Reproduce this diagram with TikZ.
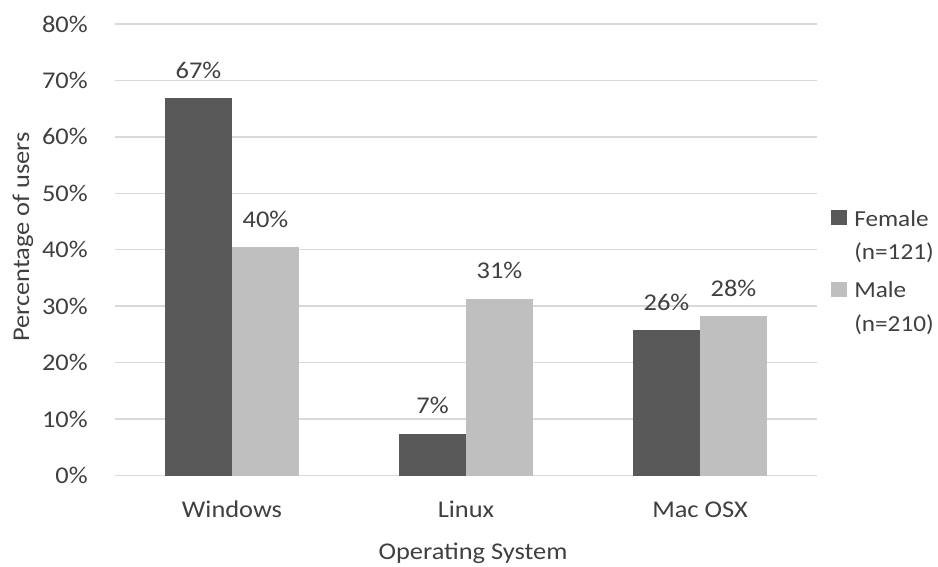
\documentclass[tikz,border=0pt]{standalone}
\usepackage{fontspec}
\setmainfont[FakeStretch=1.1]{Carlito}
\definecolor{femalegray}{HTML}{595959}
\definecolor{malegray}{HTML}{BFBFBF}
\definecolor{gridgray}{HTML}{D9D9D9}
\definecolor{textgray}{HTML}{404040}
\tikzset{
  lbl/.style={font=\fontsize{18}{21}\selectfont, text=textgray, inner sep=0pt},
  leglbl/.style={lbl, font=\fontsize{17.2}{20}\selectfont, anchor=base west},
  femalebar/.style={fill=femalegray},
  malebar/.style={fill=malegray},
  gridline/.style={draw=gridgray, line width=1.1pt},
}
\begin{document}
\begin{tikzpicture}[x=0.75pt,y=-0.75pt]
  \useasboundingbox[fill=white] (0,0) rectangle (938,567);
  % Grid lines and tick labels
  \foreach \v in {0,10,...,80} {
    \draw[gridline] (115,{475.5-\v*5.644}) -- (817,{475.5-\v*5.644});
    \node[lbl, anchor=east] (ytick-\v) at (88,{475.5-\v*5.644}) {\v\%};
  }
  % Bars with value labels
  \foreach \os/\f/\m/\fl/\ml [count=\i] in {Windows/66.8/40.4/67/40, Linux/7.4/31.3/7/31, Mac OSX/25.7/28.2/26/28} {
    \pgfmathsetmacro{\cx}{115+234*(\i-0.5)}
    \fill[femalebar] ({\cx-67},475.5) rectangle (\cx,{475.5-\f*5.644});
    \fill[malebar] (\cx,475.5) rectangle ({\cx+67},{475.5-\m*5.644});
    \node[lbl, anchor=base] (val-f-\i) at ({\cx-33.5},{475.5-\f*5.644-20}) {\fl\%};
    \node[lbl, anchor=base] (val-m-\i) at ({\cx+33.5},{475.5-\m*5.644-20}) {\ml\%};
    \node[lbl, anchor=base] (cat-\i) at (\cx,517) {\os};
  }
  % Axis titles
  \node[lbl, anchor=base] (xtitle) at (473,559) {Operating System};
  \node[lbl, anchor=base, rotate=90] (ytitle) at (29,237) {Percentage of users};
  % Legend
  \fill[femalebar] (831,210) rectangle (847,225);
  \fill[malebar] (831,282) rectangle (847,297);
  \node[leglbl] (leg-female) at (854,226) {Female};
  \node[leglbl] (leg-female-n) at (854,259) {(n=121)};
  \node[leglbl] (leg-male) at (854,297) {Male};
  \node[leglbl] (leg-male-n) at (854,331) {(n=210)};
\end{tikzpicture}
\end{document}
